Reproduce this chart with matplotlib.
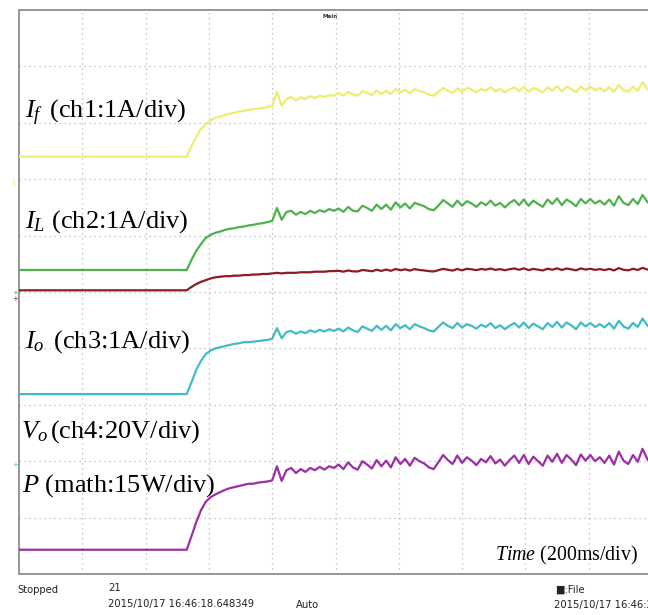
import matplotlib
matplotlib.use("Agg")
import matplotlib.pyplot as plt

W, H = 648, 615

plt.rcParams['mathtext.fontset'] = 'custom'
plt.rcParams['mathtext.rm'] = 'Liberation Serif'
plt.rcParams['mathtext.it'] = 'Liberation Serif:italic'

# scope screen: 200 ms/div, 10 x 10 divisions
TIME_PER_DIV = 200
N_XDIV = 10
N_YDIV = 10

# sample times in ms (flat until the step at ~530 ms)
time_ms = [0] + list(range(530, 2001, 15))

# traces, in divisions from the bottom of the grid
i_f = [7.40,
       7.40, 7.59, 7.75, 7.89, 7.98, 8.04, 8.09, 8.11, 8.14, 8.16, 8.18, 8.20, 8.21, 8.23, 8.24, 8.25,
       8.26, 8.28, 8.30, 8.55, 8.30, 8.42, 8.46, 8.40, 8.45, 8.42, 8.47, 8.44, 8.48, 8.46, 8.49, 8.48,
       8.53, 8.48, 8.55, 8.50, 8.48, 8.56, 8.53, 8.49, 8.57, 8.51,
       8.57, 8.51, 8.60, 8.54, 8.59, 8.52, 8.60, 8.56, 8.54, 8.50,
       8.48, 8.55, 8.62, 8.57, 8.53, 8.61, 8.54, 8.62, 8.59, 8.54,
       8.60, 8.57, 8.63, 8.56, 8.60, 8.54, 8.59, 8.63, 8.56, 8.64,
       8.55, 8.62, 8.58, 8.54, 8.63, 8.57, 8.65, 8.56, 8.64, 8.60,
       8.54, 8.64, 8.58, 8.64, 8.58, 8.62, 8.56, 8.63, 8.55, 8.67,
       8.58, 8.55, 8.64, 8.57, 8.72, 8.60, 8.54]

i_l = [5.39,
       5.39, 5.57, 5.73, 5.85, 5.96, 6.01, 6.05, 6.07, 6.10, 6.12, 6.13, 6.15, 6.16, 6.18, 6.19, 6.21,
       6.22, 6.24, 6.26, 6.49, 6.28, 6.42, 6.44, 6.37, 6.42, 6.38, 6.44, 6.40, 6.45, 6.42, 6.47, 6.44,
       6.48, 6.42, 6.51, 6.44, 6.43, 6.53, 6.49, 6.44, 6.55, 6.47,
       6.55, 6.46, 6.59, 6.50, 6.57, 6.48, 6.58, 6.55, 6.52, 6.47,
       6.45, 6.53, 6.63, 6.57, 6.51, 6.62, 6.53, 6.61, 6.57, 6.51,
       6.59, 6.54, 6.62, 6.53, 6.58, 6.50, 6.58, 6.63, 6.54, 6.64,
       6.53, 6.62, 6.56, 6.51, 6.64, 6.56, 6.66, 6.54, 6.64, 6.59,
       6.52, 6.65, 6.57, 6.65, 6.57, 6.62, 6.55, 6.64, 6.53, 6.70,
       6.58, 6.54, 6.65, 6.56, 6.72, 6.60, 6.52]

v_o = [5.03,
       5.03, 5.09, 5.14, 5.18, 5.21, 5.24, 5.26, 5.27, 5.28, 5.28, 5.29, 5.29, 5.30, 5.30, 5.31, 5.31,
       5.32, 5.32, 5.33, 5.34, 5.33, 5.34, 5.34, 5.34, 5.35, 5.35, 5.35, 5.36, 5.36, 5.36, 5.37, 5.37,
       5.376, 5.360, 5.382, 5.366, 5.364, 5.390, 5.380, 5.368, 5.394, 5.374,
       5.398, 5.376, 5.408, 5.386, 5.402, 5.380, 5.406, 5.390, 5.382, 5.370,
       5.364, 5.386, 5.410, 5.394, 5.380, 5.408, 5.384, 5.412, 5.402, 5.388,
       5.408, 5.396, 5.416, 5.392, 5.406, 5.386, 5.404, 5.418, 5.394, 5.420,
       5.388, 5.410, 5.396, 5.382, 5.414, 5.394, 5.420, 5.390, 5.416, 5.402,
       5.384, 5.418, 5.398, 5.412, 5.392, 5.406, 5.388, 5.410, 5.382, 5.424,
       5.394, 5.384, 5.412, 5.390, 5.428, 5.400, 5.380]

i_o = [3.19,
       3.19, 3.40, 3.62, 3.78, 3.90, 3.96, 4.00, 4.02, 4.04, 4.06, 4.08, 4.09, 4.11, 4.11, 4.12, 4.13,
       4.14, 4.15, 4.17, 4.36, 4.18, 4.29, 4.31, 4.26, 4.30, 4.27, 4.32, 4.29, 4.33, 4.30, 4.34, 4.31,
       4.35, 4.30, 4.37, 4.32, 4.29, 4.39, 4.35, 4.31, 4.40, 4.33,
       4.40, 4.32, 4.43, 4.36, 4.41, 4.34, 4.43, 4.39, 4.36, 4.32,
       4.30, 4.38, 4.46, 4.40, 4.36, 4.45, 4.37, 4.43, 4.40, 4.35,
       4.42, 4.38, 4.45, 4.36, 4.41, 4.34, 4.40, 4.45, 4.37, 4.46,
       4.36, 4.44, 4.39, 4.34, 4.45, 4.38, 4.47, 4.37, 4.46, 4.41,
       4.34, 4.46, 4.39, 4.45, 4.38, 4.43, 4.37, 4.45, 4.35, 4.49,
       4.39, 4.35, 4.45, 4.38, 4.53, 4.41, 4.34]

p_math = [0.43,
          0.43, 0.67, 0.92, 1.13, 1.28, 1.36, 1.41, 1.45, 1.49, 1.52, 1.54, 1.56, 1.58, 1.60, 1.60, 1.62,
          1.63, 1.64, 1.66, 1.91, 1.65, 1.84, 1.88, 1.79, 1.86, 1.81, 1.88, 1.84, 1.90, 1.85, 1.91, 1.88,
          1.94, 1.86, 1.98, 1.89, 1.85, 2.00, 1.94, 1.87, 2.02, 1.91,
          2.01, 1.89, 2.07, 1.95, 2.04, 1.92, 2.06, 2.00, 1.96, 1.89,
          1.86, 1.98, 2.11, 2.02, 1.95, 2.10, 1.97, 2.07, 2.01, 1.93,
          2.04, 1.98, 2.09, 1.96, 2.03, 1.92, 2.02, 2.10, 1.97, 2.11,
          1.95, 2.08, 2.00, 1.92, 2.10, 1.99, 2.13, 1.97, 2.11, 2.03,
          1.93, 2.12, 2.01, 2.11, 2.00, 2.07, 1.97, 2.10, 1.94, 2.17,
          2.01, 1.95, 2.11, 1.99, 2.22, 2.04, 1.93]

traces = [(i_f, '#eded72'), (i_l, '#4fb04f'), (v_o, '#8c1c24'),
          (i_o, '#3fbcc6'), (p_math, '#9c2ea6')]

labels = [r'$I_f\,$ (ch1:1A/div)', r'$I_L$ (ch2:1A/div)', r'$I_o\,$ (ch3:1A/div)',
          r'$V_o\,$(ch4:20V/div)', r'$P$ (math:15W/div)']


def fx(px):
    return px / W


def fy(py):
    return 1 - py / H


fig = plt.figure(figsize=(W / 100, H / 100), dpi=100)
ax = fig.add_axes([fx(19), fy(574), (652 - 19) / W, (574 - 10) / H])
ax.set_xlim(0, N_XDIV * TIME_PER_DIV)
ax.set_ylim(0, N_YDIV)

# dotted graticule
for k in range(1, N_XDIV):
    ax.axvline(k * TIME_PER_DIV, color='#b4b4b4', lw=0.9, ls=(0, (1, 3)), zorder=1)
for k in range(1, N_YDIV):
    ax.axhline(k, color='#b4b4b4', lw=0.9, ls=(0, (1, 3)), zorder=1)

for vals, col in traces:
    ax.plot(time_ms, vals, color=col, lw=1.6, solid_joinstyle='round', zorder=3)

ax.set_xticks([])
ax.set_yticks([])
for side in ['left', 'top', 'bottom', 'right']:
    ax.spines[side].set_color('#8e8e8e')
    ax.spines[side].set_linewidth(1.3)

# channel labels
serif = 'Liberation Serif'
label_pos = [(25, 118), (25, 228), (25, 348), (21, 438), (22, 492)]
for txt, (x, y) in zip(labels, label_pos):
    fig.text(fx(x), fy(y), txt, family=serif, fontsize=19, va='baseline', ha='left', zorder=5)
fig.text(fx(638), fy(560), r'$Time$ (200ms/div)', family=serif, fontsize=14.3,
         va='baseline', ha='right')

# small scope markers
fig.text(fx(330), fy(16), 'Main', fontsize=4, weight='bold', color='#333333',
         ha='center', va='center')
fig.text(fx(13), fy(182), '|', fontsize=5, color='#e6e66a', ha='center', va='center')
fig.text(fx(15), fy(293), '+', fontsize=5, color='#4fb04f', ha='center', va='center')
fig.text(fx(15), fy(299), '+', fontsize=5, color='#8c1c24', ha='center', va='center')
fig.text(fx(15), fy(465), '+', fontsize=5, color='#3fbcc6', ha='center', va='center')

# status bar below the screen
bar = dict(family='DejaVu Sans', stretch='condensed', fontsize=8, va='center',
           color='#222222')
fig.text(fx(17), fy(590), 'Stopped', **bar)
fig.text(fx(108), fy(588), '21', **bar)
fig.text(fx(108), fy(604), '2015/10/17 16:46:18.648349', **bar)
fig.text(fx(296), fy(605), 'Auto', **bar)
fig.text(fx(555), fy(590), '\u25a0:File', **bar)
fig.text(fx(554), fy(605), '2015/10/17 16:46:25', **bar)

fig.savefig('out.png', dpi=100, facecolor='white')
